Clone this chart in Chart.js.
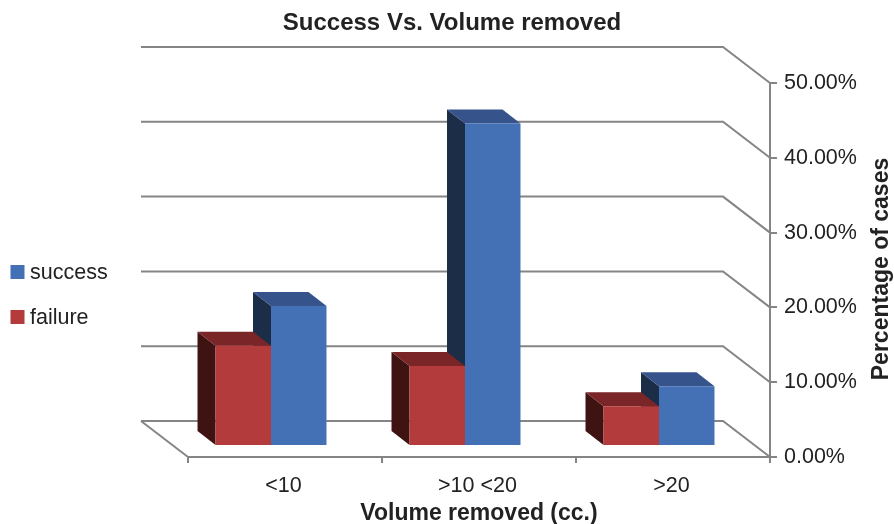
<!DOCTYPE html>
<html>
<head>
<meta charset="utf-8">
<title>Success Vs. Volume removed</title>
<script src="https://cdn.jsdelivr.net/npm/chart.js@4"></script>
<style>
  html, body { margin: 0; padding: 0; background: #fff; }
  canvas { display: block; }
</style>
</head>
<body>
<canvas id="chart" width="894" height="524"></canvas>
<script>
var categories = ['<10', '>10 <20', '>20'];
var failure = [13.4, 10.7, 5.3];
var success = [18.7, 43.1, 8.0];

var FONT = '"Liberation Sans", Arial, sans-serif';
var TEXT = '#222';
var LINE = '#858585';

// depth of the fake 3d box: floor/wall shift, then how far the bars sit in and how deep they are
var wallDx = 47, wallDy = 36;
var barDx = 14, barDy = 11;
var depthDx = 18, depthDy = 14;

var redFaces = { front: '#b33b3c', side: '#3e1312', top: '#7a2628' };
var blueFaces = { front: '#4470b5', side: '#1c2d47', top: '#37538c' };

function poly(ctx, color, pts) {
  ctx.fillStyle = color;
  ctx.beginPath();
  ctx.moveTo(pts[0][0], pts[0][1]);
  for (var i = 1; i < pts.length; i++) ctx.lineTo(pts[i][0], pts[i][1]);
  ctx.closePath();
  ctx.fill();
}

function drawFaces(chart, index, faces) {
  var ctx = chart.ctx;
  chart.getDatasetMeta(index).data.forEach(function (bar) {
    var l = bar.x - bar.width / 2 - barDx, r = bar.x + bar.width / 2 - barDx;
    var t = bar.y - barDy, b = bar.base - barDy;
    poly(ctx, faces.side, [[l, t], [l - depthDx, t - depthDy], [l - depthDx, b - depthDy], [l, b]]);
    poly(ctx, faces.top, [[l, t], [l - depthDx, t - depthDy], [r - depthDx, t - depthDy], [r, t]]);
  });
}

var box3d = {
  id: 'box3d',
  afterLayout: function (chart) {
    // title is centred a bit right of the canvas middle, not over the plot
    chart.titleBlock.left = 10;
    chart.titleBlock.right = 894;
  },
  beforeDatasetsDraw: function (chart) {
    var ctx = chart.ctx, x = chart.scales.x, y = chart.scales.y;
    ctx.save();
    ctx.strokeStyle = LINE;
    ctx.lineWidth = 2;
    y.ticks.forEach(function (tick) {
      var py = y.getPixelForValue(tick.value);
      ctx.beginPath();
      ctx.moveTo(x.left - wallDx, py - wallDy);
      ctx.lineTo(x.right - wallDx, py - wallDy);
      ctx.lineTo(x.right, py);
      ctx.stroke();
    });
    // left edge of the floor
    ctx.beginPath();
    ctx.moveTo(x.left - wallDx, y.bottom - wallDy);
    ctx.lineTo(x.left, y.bottom);
    ctx.stroke();
    drawFaces(chart, 1, blueFaces);
    drawFaces(chart, 0, redFaces);
    ctx.restore();
    ctx.save();
    ctx.translate(-barDx, -barDy);
  },
  afterDatasetsDraw: function (chart) {
    chart.ctx.restore();
  },
  afterDraw: function (chart) {
    var ctx = chart.ctx;
    ctx.save();
    // legend, success first
    ctx.font = '21.5px ' + FONT;
    ctx.textBaseline = 'middle';
    ctx.textAlign = 'left';
    [[1, 272], [0, 317]].forEach(function (item) {
      var ds = chart.data.datasets[item[0]];
      ctx.fillStyle = ds.backgroundColor;
      ctx.fillRect(10.5, item[1] - 7, 14, 14);
      ctx.fillStyle = TEXT;
      ctx.fillText(ds.label, 30, item[1] + 1);
    });
    // right axis title reads bottom to top, the built in one goes the other way
    ctx.font = 'bold 23px ' + FONT;
    ctx.textAlign = 'center';
    ctx.textBaseline = 'alphabetic';
    ctx.translate(888, 269);
    ctx.rotate(-Math.PI / 2);
    ctx.fillText('Percentage of cases', 0, 0);
    ctx.restore();
  }
};

new Chart(document.getElementById('chart'), {
  type: 'bar',
  data: {
    labels: categories,
    datasets: [
      { label: 'failure', data: failure, backgroundColor: redFaces.front },
      { label: 'success', data: success, backgroundColor: blueFaces.front }
    ]
  },
  plugins: [box3d],
  options: {
    responsive: false,
    animation: false,
    layout: { padding: { left: 188 } },
    datasets: { bar: { categoryPercentage: 0.572, barPercentage: 1 } },
    plugins: {
      legend: { display: false },
      tooltip: { enabled: false },
      title: {
        display: true,
        text: 'Success Vs. Volume removed',
        color: TEXT,
        font: { family: FONT, size: 24, weight: 'bold' },
        padding: { top: 9, bottom: 45.2 }
      }
    },
    scales: {
      x: {
        afterFit: function (s) { s.height = 67; },
        border: { color: LINE, width: 2 },
        grid: { color: LINE, lineWidth: 2, drawOnChartArea: false, tickLength: 6 },
        ticks: { color: TEXT, font: { family: FONT, size: 21.5 }, padding: 10, labelOffset: -1.5, maxRotation: 0 },
        title: {
          display: true,
          text: 'Volume removed (cc.)',
          color: TEXT,
          font: { family: FONT, size: 23, weight: 'bold', lineHeight: 1 },
          padding: { top: 0, bottom: -1.5 }
        }
      },
      y: {
        position: 'right',
        min: 0,
        max: 50,
        afterFit: function (s) { s.width = 124; },
        border: { color: LINE, width: 2 },
        grid: { color: LINE, lineWidth: 2, drawOnChartArea: false, tickLength: 7 },
        ticks: {
          stepSize: 10,
          color: TEXT,
          font: { family: FONT, size: 21.5 },
          padding: 7,
          callback: function (v) { return v.toFixed(2) + '%'; }
        }
      }
    }
  }
});
</script>
</body>
</html>
